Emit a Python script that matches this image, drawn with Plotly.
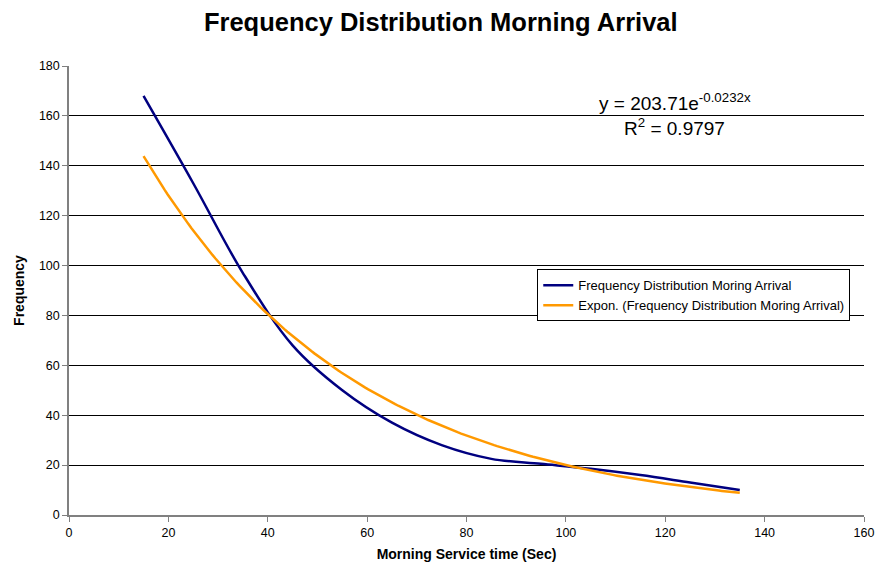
import numpy as np
import plotly.graph_objects as go

# Observed frequency by morning service time (seconds)
service_time = [15, 25, 35, 45, 55, 65, 75, 85, 95, 105, 115, 125, 135]
frequency = [168, 133, 97, 68, 50, 37, 28, 22.5, 20.5, 18.5, 16, 13, 10]

# Exponential trendline coefficients: y = a * exp(b * x)
trend_a = 203.71
trend_b = -0.0232
trend_r2 = 0.9797

x_trend = np.linspace(min(service_time), max(service_time), 200)
y_trend = trend_a * np.exp(trend_b * x_trend)

font_family = "Liberation Sans, Arial, sans-serif"

fig = go.Figure()
fig.add_trace(go.Scatter(
    x=service_time, y=frequency, mode="lines",
    line=dict(color="#000080", width=2.5, shape="spline", smoothing=1.0),
    name="Frequency Distribution Moring Arrival",
))
fig.add_trace(go.Scatter(
    x=x_trend, y=y_trend, mode="lines",
    line=dict(color="#FF9900", width=2.5),
    name="Expon. (Frequency Distribution Moring Arrival)",
))

# Trendline equation and goodness of fit
fig.add_annotation(
    x=0.762, y=0.92, xref="paper", yref="paper",
    text=f"y = {trend_a}e<sup>{trend_b}x</sup>",
    showarrow=False, font=dict(family=font_family, size=19, color="black"),
    xanchor="center", yanchor="middle",
)
fig.add_annotation(
    x=0.762, y=0.865, xref="paper", yref="paper",
    text=f"R<sup>2</sup> = {trend_r2}",
    showarrow=False, font=dict(family=font_family, size=19, color="black"),
    xanchor="center", yanchor="middle",
)

fig.update_layout(
    width=878, height=573,
    margin=dict(l=69, r=14, t=66, b=58, autoexpand=False),
    paper_bgcolor="white", plot_bgcolor="white",
    font=dict(family=font_family, size=12.5, color="black"),
    title=dict(
        text="<b>Frequency Distribution Morning Arrival</b>",
        x=0.502, xanchor="center", y=0.962, yanchor="middle",
        font=dict(family=font_family, size=25.5, color="black"),
    ),
    showlegend=True,
    legend=dict(
        x=0.589, y=0.547, xanchor="left", yanchor="top",
        bgcolor="white", bordercolor="black", borderwidth=1,
        font=dict(family=font_family, size=13, color="black"),
        tracegroupgap=0, itemwidth=30,
    ),
)

fig.update_xaxes(
    range=[0, 160], tick0=0, dtick=20, automargin=False,
    showgrid=False, zeroline=False,
    showline=True, linecolor="#808080", linewidth=1.5,
    ticks="outside", ticklen=5, tickcolor="#808080",
    tickfont=dict(size=12.5),
    title=dict(text="<b>Morning Service time (Sec)</b>", font=dict(size=14), standoff=10),
)
fig.update_yaxes(
    range=[0, 180], tick0=0, dtick=20, automargin=False,
    showgrid=True, gridcolor="black", gridwidth=1,
    zeroline=False,
    showline=True, linecolor="#808080", linewidth=1.5,
    ticks="outside", ticklen=5, tickcolor="#808080",
    tickfont=dict(size=12.5),
    title=dict(text="<b>Frequency</b>", font=dict(size=14), standoff=11),
)

fig.write_html("out.html")
